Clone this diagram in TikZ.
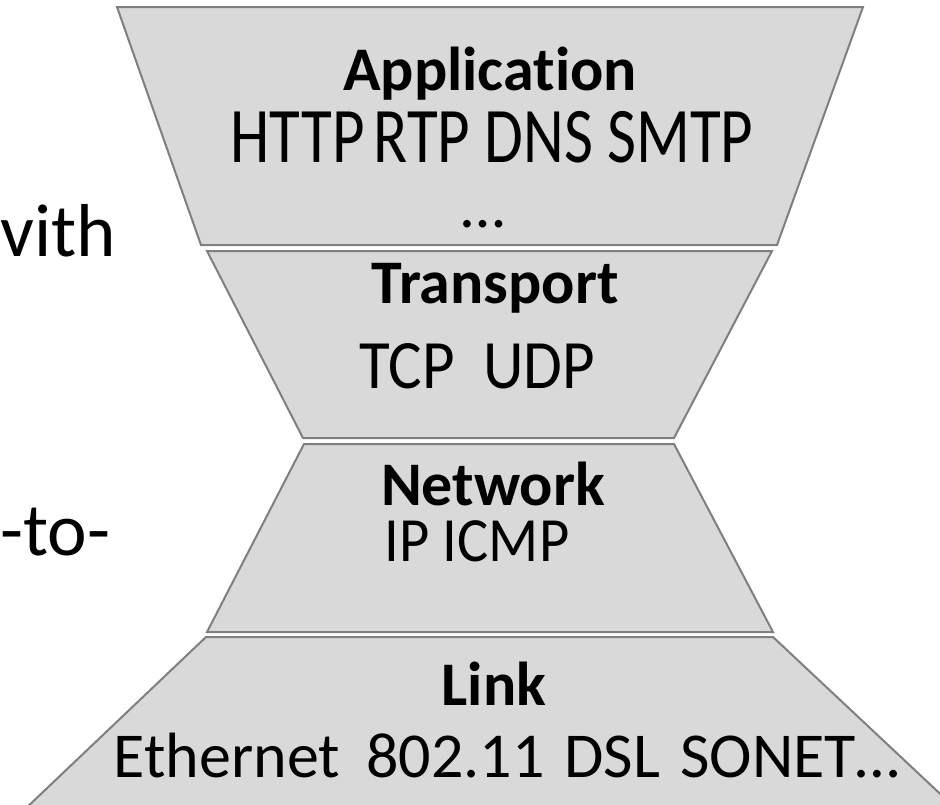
\documentclass[tikz,border=0pt]{standalone}
\usepackage{fontspec}
\setmainfont{Carlito}[Ligatures={NoCommon}]
\definecolor{layerfill}{HTML}{D9D9D9}
\definecolor{layeredge}{HTML}{7F7F7F}
\begin{document}
\begin{tikzpicture}[x=1pt,y=-1pt,
  layer/.style={fill=layerfill,draw=layeredge,line width=2pt,line join=miter},
  title/.style={anchor=base,inner sep=0pt,font=\fontsize{62}{62}\selectfont\bfseries},
  proto/.style={anchor=base,inner sep=0pt,font=\fontsize{63}{63}\selectfont},
  side/.style={anchor=base west,inner sep=0pt,font=\fontsize{75}{75}\selectfont}]
\useasboundingbox (0,0) rectangle (940,804);
\clip (0,0) rectangle (940,804);
% layers
\draw[layer] (117,7) -- (863,7) -- (777,245) -- (201,245) -- cycle;
\draw[layer] (207,251) -- (772,251) -- (674,438) -- (303,438) -- cycle;
\draw[layer] (304,444) -- (674,444) -- (773,632) -- (207,632) -- cycle;
\draw[layer] (206,637) -- (773,637) -- (1000,850) -- (-18,850) -- cycle;
% left text fragments
\node[side] (with) at (0,256) {vith};
\node[side] (toto) at (0,555) {-to-};
% application
\node[title] (app) at (490,90) {Application};
\node[proto] (appp) at (492,162) {\scalebox{1}[1.25]{HTTP\kern9pt RTP DNS SMTP}};
\node[proto] (appd) at (483,227) {…};
% transport
\node[title] (tr) at (495,303) {Transport};
\node[proto] (trp) at (477,388) {\scalebox{1}[1.1]{TCP\ \ UDP}};
% network
\node[title] (nw) at (493,505) {Network};
\node[proto] (nwp) at (477,561) {\scalebox{0.93}[1]{IP ICMP}};
% link
\node[title] (lk) at (494,705) {Link};
\node[proto,font=\fontsize{64}{64}\selectfont] (lkp) at (507,777) {Ethernet\hspace{26pt}802.11\hspace{20pt}DSL\hspace{20pt}SONET…};
\end{tikzpicture}
\end{document}
